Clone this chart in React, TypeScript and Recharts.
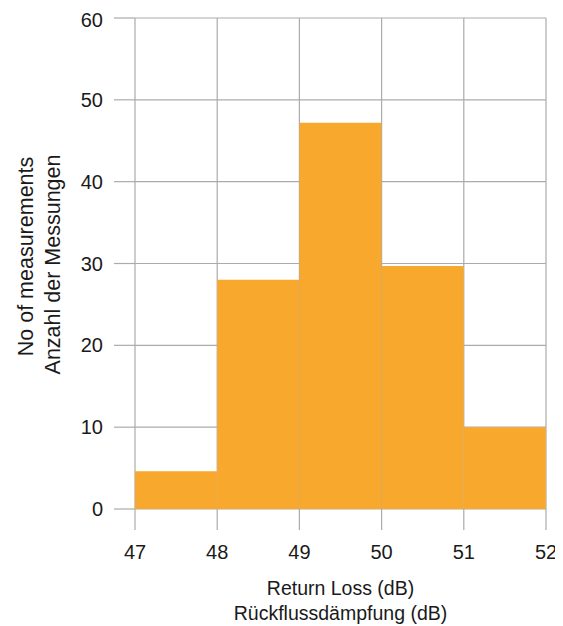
import React from 'react';
import { ComposedChart, Bar, XAxis, YAxis, CartesianGrid } from 'recharts';

const binStarts = [47, 48, 49, 50, 51];
const binLabels = ['47-48', '48-49', '49-50', '50-51', '51-52'];
const counts = [4.6, 28, 47.2, 29.7, 10];
const xTicks = [47, 48, 49, 50, 51, 52];
const yTicks = [0, 10, 20, 30, 40, 50, 60];

const data = binLabels.map((bin, i) => ({ bin, start: binStarts[i], count: counts[i] }));

const GRID = '#ababab';
const TEXT = '#1a1a1a';
const tickFont = { fontFamily: '"Liberation Sans", Arial, sans-serif', fontSize: 20, fill: TEXT };
const titleFont = '"Liberation Sans", Arial, sans-serif';

const XTitle = (props: any) => {
  const { x, y, width } = props.viewBox;
  const cx = x + width / 2;
  return (
    <g fontFamily={titleFont} fontSize={19.5} fill={TEXT} textAnchor="middle">
      <text x={cx} y={y + 86}>Return Loss (dB)</text>
      <text x={cx} y={y + 111}>Rückflussdämpfung (dB)</text>
    </g>
  );
};

const YTitle = (props: any) => {
  const { y, height } = props.viewBox;
  const cy = y + height / 2;
  return (
    <g fontFamily={titleFont} fontSize={21.5} fill={TEXT} textAnchor="middle">
      <text x={25} y={cy - 7} transform={`rotate(-90, 25, ${cy - 7})`}>No of measurements</text>
      <text x={52} y={cy + 1} transform={`rotate(-90, 52, ${cy + 1})`}>Anzahl der Messungen</text>
    </g>
  );
};

const App = () => {
  return (
    <div style={{ width: 555, height: 618 }}>
      <ComposedChart
        width={555}
        height={618}
        data={data}
        margin={{ top: 10, right: 17, left: 0, bottom: 0 }}
        barCategoryGap={0}
      >
        <CartesianGrid xAxisId="num" stroke={GRID} strokeWidth={1.2} />
        <XAxis xAxisId="bins" dataKey="bin" type="category" hide height={0} />
        <XAxis
          xAxisId="num"
          dataKey="start"
          type="number"
          domain={[47, 52]}
          ticks={xTicks}
          allowDataOverflow
          axisLine={false}
          tickSize={21}
          tickMargin={15}
          tickLine={{ stroke: GRID, strokeWidth: 1.2 }}
          tick={tickFont}
          height={117}
          label={<XTitle />}
        />
        <YAxis
          domain={[0, 60]}
          ticks={yTicks}
          axisLine={false}
          tickSize={21}
          tickMargin={11}
          tickLine={{ stroke: GRID, strokeWidth: 1.2 }}
          tick={tickFont}
          width={127}
          label={<YTitle />}
        />
        <Bar xAxisId="bins" dataKey="count" fill="#F9A82E" isAnimationActive={false} />
      </ComposedChart>
    </div>
  );
};

export default App;
